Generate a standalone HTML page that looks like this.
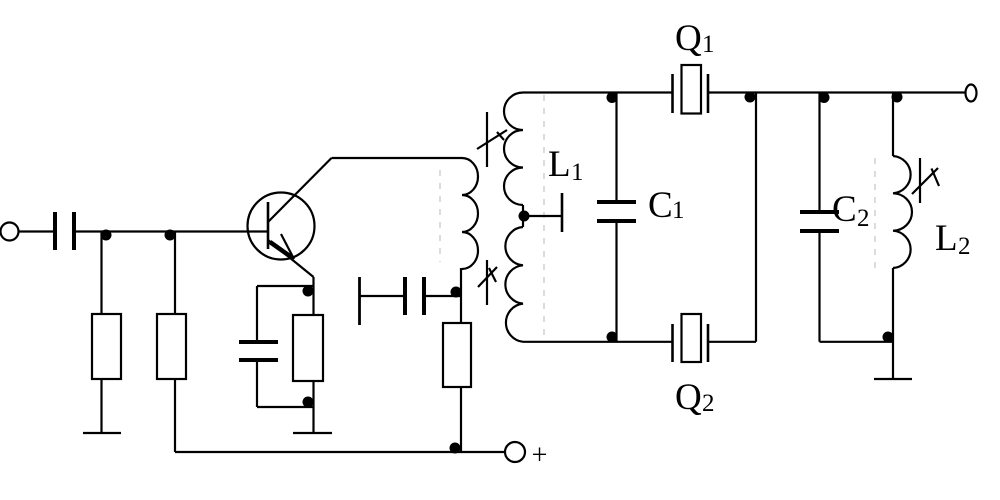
<!DOCTYPE html>
<html>
<head>
<meta charset="utf-8">
<style>
  html, body { margin: 0; padding: 0; background: #fff; }
  body { width: 1000px; height: 500px; overflow: hidden; }
  svg { display: block; }
  text { font-family: "Liberation Serif", serif; fill: #000; }
</style>
</head>
<body>
<svg width="1000" height="500" viewBox="0 0 1000 500" xmlns="http://www.w3.org/2000/svg">
  <rect x="0" y="0" width="1000" height="500" fill="#fff"/>

  <!-- faint dashed guide lines -->
  <g stroke="#c8c8c8" stroke-width="1.3" stroke-dasharray="6,7" fill="none">
    <line x1="440" y1="170" x2="440" y2="262"/>
    <line x1="544" y1="95" x2="544" y2="340"/>
    <line x1="875" y1="158" x2="875" y2="268"/>
  </g>

  <g stroke="#000" stroke-width="2.2" fill="none" stroke-linecap="butt">
    <!-- input -->
    <circle cx="9.5" cy="231.5" r="9"/>
    <line x1="18.5" y1="231.5" x2="55" y2="231.5"/>
    <line x1="55" y1="212" x2="55" y2="250" stroke-width="4"/>
    <line x1="74" y1="212" x2="74" y2="250" stroke-width="4"/>
    <line x1="74" y1="231.5" x2="268" y2="231.5"/>

    <!-- R1 to ground -->
    <line x1="101.5" y1="231.5" x2="101.5" y2="314"/>
    <rect x="92" y="314" width="29" height="65" fill="#fff"/>
    <line x1="101.5" y1="379" x2="101.5" y2="433"/>
    <line x1="83" y1="433" x2="121" y2="433"/>

    <!-- R2 to supply -->
    <line x1="175" y1="231.5" x2="175" y2="314"/>
    <rect x="157" y="314" width="29" height="65" fill="#fff"/>
    <line x1="175" y1="379" x2="175" y2="452"/>
    <line x1="175" y1="452" x2="505" y2="452"/>
    <circle cx="515" cy="452" r="10"/>

    <!-- transistor -->
    <circle cx="281" cy="226" r="33.5"/>
    <line x1="268" y1="202" x2="268" y2="249" stroke-width="2.6"/>
    <line x1="268" y1="222" x2="331.5" y2="158"/>
    <line x1="331.5" y1="158" x2="462" y2="158"/>
    <line x1="268" y1="240" x2="313.5" y2="277"/>
    <line x1="270" y1="242" x2="294" y2="259" stroke-width="4.5"/>
    <line x1="281" y1="234" x2="294" y2="259"/>
    <line x1="313.5" y1="277" x2="313.5" y2="315"/>
    <line x1="313.5" y1="381" x2="313.5" y2="433"/>
    <line x1="293" y1="433" x2="332" y2="433"/>

    <!-- emitter RC -->
    <line x1="257" y1="286" x2="313.5" y2="286"/>
    <line x1="257" y1="286" x2="257" y2="342"/>
    <line x1="239" y1="342" x2="278" y2="342" stroke-width="4"/>
    <line x1="239" y1="360" x2="278" y2="360" stroke-width="4"/>
    <line x1="257" y1="360" x2="257" y2="407"/>
    <line x1="257" y1="407" x2="313.5" y2="407"/>
    <rect x="293" y="315" width="30" height="66" fill="#fff"/>

    <!-- primary coil -->
    <path d="M462,158 A16,18.5 0 0 1 462,195 A16,18.5 0 0 1 462,232 A16,18.5 0 0 1 462,269"/>
    <line x1="461" y1="268" x2="461" y2="323"/>
    <rect x="443" y="323" width="28" height="64" fill="#fff"/>
    <line x1="461" y1="387" x2="461" y2="452"/>

    <!-- bypass capacitor -->
    <line x1="359.5" y1="277" x2="359.5" y2="325" stroke-width="2.8"/>
    <line x1="359.5" y1="296" x2="405" y2="296"/>
    <line x1="405" y1="277" x2="405" y2="315" stroke-width="4"/>
    <line x1="424" y1="277" x2="424" y2="315" stroke-width="4"/>
    <line x1="424" y1="296" x2="461" y2="296"/>

    <!-- variable marks on transformer -->
    <line x1="487" y1="112" x2="487" y2="167"/>
    <line x1="477" y1="149" x2="507" y2="130"/>
    <line x1="497" y1="132" x2="504" y2="140"/>
    <line x1="487" y1="260" x2="487" y2="305"/>
    <line x1="478" y1="287" x2="497" y2="267"/>
    <line x1="489" y1="268" x2="496" y2="282"/>

    <!-- secondary coil -->
    <path d="M523,92.5 A19,18.75 0 0 0 523,130 A19,18.75 0 0 0 523,167.5 A19,18.75 0 0 0 523,205"/>
    <line x1="523" y1="205" x2="523" y2="227"/>
    <path d="M523,227 A19,19.2 0 0 0 523,265.3 A19,19.2 0 0 0 523,303.6 A19,19.2 0 0 0 523,341.8"/>
    <line x1="524" y1="216" x2="562" y2="216"/>
    <line x1="562" y1="193" x2="562" y2="232" stroke-width="2.6"/>

    <!-- top and bottom rails -->
    <line x1="523" y1="92.5" x2="672.5" y2="92.5"/>
    <line x1="708" y1="92.5" x2="965.5" y2="92.5"/>
    <line x1="523" y1="341.8" x2="672.5" y2="341.8"/>

    <!-- C1 -->
    <line x1="616.5" y1="92.5" x2="616.5" y2="202"/>
    <line x1="597" y1="202" x2="636" y2="202" stroke-width="4"/>
    <line x1="597" y1="221" x2="636" y2="221" stroke-width="4"/>
    <line x1="616.5" y1="221" x2="616.5" y2="341.8"/>

    <!-- Q1 -->
    <line x1="672.5" y1="74" x2="672.5" y2="113" stroke-width="2.6"/>
    <rect x="681.5" y="65" width="19.5" height="48.5"/>
    <line x1="708" y1="74" x2="708" y2="113" stroke-width="2.6"/>

    <!-- Q2 -->
    <line x1="672.5" y1="324" x2="672.5" y2="362" stroke-width="2.6"/>
    <rect x="681.5" y="314" width="19.5" height="48"/>
    <line x1="708" y1="324" x2="708" y2="362" stroke-width="2.6"/>
    <line x1="708" y1="341.8" x2="756" y2="341.8"/>
    <line x1="756" y1="341.8" x2="756" y2="92.5"/>

    <!-- C2 -->
    <line x1="819.5" y1="92.5" x2="819.5" y2="212"/>
    <line x1="800" y1="212" x2="839" y2="212" stroke-width="4"/>
    <line x1="800" y1="231" x2="839" y2="231" stroke-width="4"/>
    <line x1="819.5" y1="231" x2="819.5" y2="341.8"/>
    <line x1="819.5" y1="341.8" x2="893" y2="341.8"/>

    <!-- L2 -->
    <line x1="893" y1="92.5" x2="893" y2="156"/>
    <path d="M893,156 A19,18.7 0 0 1 893,193.3 A19,18.7 0 0 1 893,230.7 A19,18.7 0 0 1 893,268"/>
    <line x1="893" y1="268" x2="893" y2="379"/>
    <line x1="874" y1="379" x2="912" y2="379"/>
    <line x1="920" y1="158" x2="920" y2="203"/>
    <line x1="912" y1="194" x2="938" y2="168"/>
    <line x1="931.5" y1="168.5" x2="939" y2="186"/>

    <!-- output terminal -->
    <ellipse cx="971" cy="93" rx="5.5" ry="8.5"/>
  </g>

  <!-- junction dots -->
  <g fill="#000">
    <circle cx="106" cy="235" r="5.5"/>
    <circle cx="170" cy="235" r="5.5"/>
    <circle cx="308" cy="291" r="5.5"/>
    <circle cx="308" cy="402" r="5.5"/>
    <circle cx="456" cy="292" r="5.5"/>
    <circle cx="455" cy="448" r="5.5"/>
    <circle cx="524" cy="216" r="5.5"/>
    <circle cx="612" cy="97.5" r="5.5"/>
    <circle cx="612" cy="337" r="5.5"/>
    <circle cx="750" cy="97" r="5.5"/>
    <circle cx="824" cy="97.5" r="5.5"/>
    <circle cx="897" cy="97" r="5.5"/>
    <circle cx="888" cy="337" r="5.5"/>
  </g>

  <!-- labels -->
  <text x="675" y="50" font-size="37">Q</text>
  <text x="702" y="52" font-size="25">1</text>

  <text x="548" y="176" font-size="37">L</text>
  <text x="571" y="180" font-size="25">1</text>

  <text x="648" y="217" font-size="37">C</text>
  <text x="672" y="218" font-size="25">1</text>

  <text x="832" y="221" font-size="37">C</text>
  <text x="857" y="226" font-size="25">2</text>

  <text x="935" y="250" font-size="37">L</text>
  <text x="958" y="254" font-size="25">2</text>

  <text x="675" y="409" font-size="37">Q</text>
  <text x="702" y="411" font-size="25">2</text>

  <text x="539.5" y="464" font-size="28" text-anchor="middle">+</text>
</svg>
</body>
</html>
